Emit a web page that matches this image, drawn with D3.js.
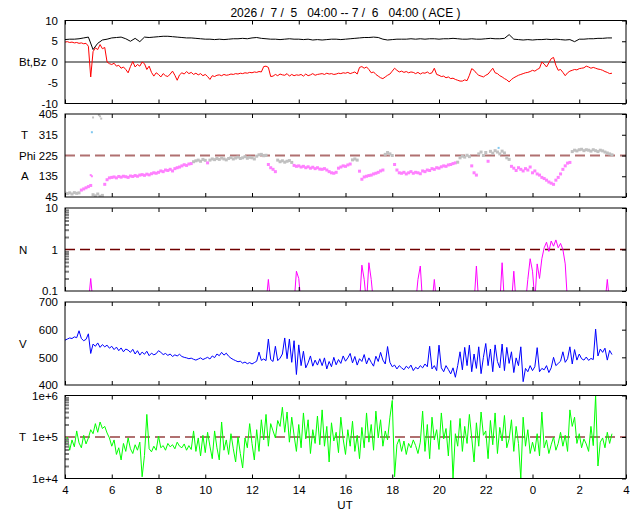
<!DOCTYPE html>
<html>
<head>
<meta charset="utf-8">
<script src="https://cdn.jsdelivr.net/npm/d3@7"></script>
<style>
	body { margin: 0; background: #fff; }
	svg { display: block; font-family: "Liberation Sans", Arial, sans-serif; font-size: 11.5px; }
	.tick text { font-size: 11.5px; font-family: "Liberation Sans", Arial, sans-serif; fill: #000; }
</style>
</head>
<body>
<svg id="chart" width="640" height="512"></svg>
<script>
// ACE real-time solar wind, 24 h starting 04:00 UT
// hours are counted from the start of the window

var titleText = "2026 /  7 /  5   04:00 -- 7 /  6   04:00 ( ACE )";

var hourTicks = [0, 2, 4, 6, 8, 10, 12, 14, 16, 18, 20, 22, 24];
var hourLabels = ["4", "6", "8", "10", "12", "14", "16", "18", "20", "22", "0", "2", "4"];

// Bt (every 12 min) and Bz (every 6 min), nT
var btStep = 0.2;
var btValues = [
	5.4,5.5,5.5,5.6,5.8,6.0,3.0,4.5,5.3,5.5,
	5.8,5.9,6.0,5.6,5.0,5.7,4.9,6.0,5.9,6.0,
	6.1,6.2,6.2,6.1,6.0,5.9,5.8,5.8,5.7,5.6,
	5.5,5.5,5.4,5.5,5.4,5.5,5.6,5.6,5.7,5.6,
	5.8,5.9,5.7,5.6,5.5,5.5,5.4,5.5,5.6,5.5,
	5.5,5.4,5.5,5.3,5.4,5.3,5.4,5.5,5.5,5.4,
	5.5,5.6,5.7,5.8,5.9,5.9,6.0,5.9,5.5,5.3,
	5.4,5.5,5.5,5.5,5.6,5.5,5.6,5.5,5.6,5.6,
	5.5,5.6,5.6,5.7,5.6,5.5,5.5,5.6,5.5,5.5,
	5.6,5.7,5.6,5.6,5.7,6.6,5.5,5.4,5.3,5.4,
	5.3,5.4,5.4,5.5,5.4,5.5,5.4,5.3,5.4,4.9,
	5.5,5.5,5.6,5.6,5.7,5.7,5.8,5.8
];
var step = 0.1;
var bzValues = [
	4.8,4.9,4.7,4.8,4.6,4.7,4.5,4.6,4.4,4.5,
	3.8,-3.6,2.5,3.4,3.0,4.2,3.2,3.5,0.0,-0.4,
	-0.6,-0.3,-1.0,-0.8,-1.5,-1.2,-1.8,-2.6,-1.1,0.1,
	-1.2,-0.6,-1.0,0.0,-0.4,-1.8,-1.0,-2.5,-3.4,-2.6,
	-3.0,-3.6,-2.8,-3.3,-3.5,-2.9,-2.2,-3.2,-4.4,-3.1,
	-2.6,-2.9,-2.3,-2.8,-2.5,-3.0,-2.7,-3.1,-2.8,-3.3,
	-3.0,-3.5,-4.2,-3.3,-3.5,-3.2,-3.1,-3.3,-3.0,-3.2,
	-3.1,-2.9,-3.0,-2.8,-2.9,-2.7,-2.8,-2.6,-2.7,-2.5,
	-2.6,-2.4,-2.5,-2.3,-2.4,-1.1,-1.0,-1.3,-3.5,-3.4,
	-3.0,-3.3,-2.9,-3.1,-3.2,-2.8,-3.4,-3.0,-3.3,-3.1,
	-3.2,-3.0,-3.4,-2.9,-3.3,-3.1,-2.8,-3.2,-3.0,-2.9,
	-2.8,-3.0,-2.7,-2.9,-2.8,-3.0,-2.9,-2.7,-2.8,-2.6,
	-2.7,-2.5,-2.8,-2.6,-2.4,-2.9,-1.3,-1.1,-1.5,-1.2,
	-1.8,-2.6,-2.4,-3.0,-3.4,-3.8,-4.0,-3.6,-3.2,-2.9,
	-2.2,-1.5,-2.0,-2.4,-2.2,-2.5,-2.3,-2.6,-2.4,-2.5,
	-2.8,-2.5,-2.9,-2.6,-2.7,-2.4,-2.8,-2.6,-1.5,-3.0,
	-3.2,-3.5,-3.4,-3.8,-3.6,-4.0,-3.9,-4.2,-4.4,-4.6,
	-4.6,-4.3,-4.5,-3.2,-1.6,-2.0,-2.7,-3.2,-3.4,-3.6,
	-3.2,-2.9,-2.2,-1.5,-2.6,-2.8,-3.3,-3.6,-4.0,-4.3,
	-4.8,-4.2,-3.8,-3.5,-3.2,-3.0,-2.8,-2.6,-2.5,-2.3,
	-2.0,-2.2,-1.8,-1.5,0.0,-0.5,-1.2,-0.2,0.8,1.1,
	-0.8,-2.0,-1.8,-2.5,-3.3,-2.6,-2.2,-2.0,-1.8,-1.9,
	-1.6,-1.5,-1.4,-1.0,-1.2,-1.5,-1.3,-1.5,-1.7,-1.8,
	-2.0,-2.3,-2.5,-2.8,-2.7
];

// Phi angle, deg
var phiValues = [
	62,60,63,58,64,61,63,75,80,85,
	90,95,55,50,58,48,52,100,120,128,
	130,132,128,134,131,135,133,130,136,134,
	138,135,140,142,139,144,141,146,150,148,
	152,158,155,162,160,165,158,168,172,175,
	180,185,182,188,190,198,202,205,200,208,
	204,193,205,210,207,212,208,214,210,206,
	212,216,210,214,218,212,215,220,213,217,
	215,210,222,228,230,224,226,186,172,165,
	155,205,198,202,196,200,203,195,182,178,
	180,175,178,172,176,170,174,168,172,166,
	165,168,162,155,150,148,152,170,175,180,
	178,184,188,206,210,205,157,122,132,135,
	138,140,145,148,152,158,162,230,238,232,
	225,186,162,150,148,152,145,150,155,148,
	152,150,146,158,155,162,160,168,165,172,
	170,176,180,178,184,186,190,193,196,215,
	222,218,226,220,180,150,140,232,240,225,
	238,200,243,235,246,240,232,244,236,215,
	208,178,170,160,172,165,158,168,162,175,
	150,158,145,140,130,125,118,110,105,100,
	118,130,145,165,180,192,195,242,248,245,
	250,252,246,250,248,244,250,246,242,248,
	245,240,236,232,228
];
// hour spans drawn in gray, the rest in violet
var phiGraySpans = [[0, 0.6], [1.2, 1.6], [5.5, 6.0], [6.2, 8.6], [9.1, 9.7], [12.3, 12.5],
	[13.7, 14.0], [16.8, 17.3], [17.7, 18.0], [18.2, 19.0], [21.7, 23.4]];
var phiExtraHours = [1.1, 1.15, 1.15, 1.2, 1.45, 1.5, 1.55, 18.55];
var phiExtraValues = [140, 135, 326, 390, 400, 395, 385, 258];
var phiExtraKinds = ["violet", "violet", "blue", "gray", "gray", "gray", "gray", "blue"];

// proton density, /cc
var densityValues = [
	.05,.05,.05,.05,.05,.05,.05,.05,.05,.05,
	.05,.2,.05,.05,.05,.05,.05,.1,.05,.05,
	.05,.05,.05,.05,.05,.05,.05,.05,.05,.05,
	.05,.05,.05,.05,.05,.05,.05,.05,.05,.05,
	.05,.05,.05,.05,.05,.05,.05,.05,.05,.05,
	.05,.05,.05,.05,.05,.05,.05,.05,.05,.05,
	.05,.05,.05,.05,.05,.05,.05,.05,.05,.05,
	.05,.05,.05,.05,.05,.05,.05,.05,.05,.05,
	.05,.05,.05,.05,.05,.05,.05,.19,.05,.05,
	.1,.05,.05,.1,.05,.05,.05,.05,.05,.3,
	.2,.05,.05,.05,.05,.05,.1,.05,.05,.05,
	.05,.05,.05,.05,.05,.05,.05,.05,.05,.05,
	.05,.05,.05,.05,.05,.05,.05,.42,.19,.05,
	.48,.19,.05,.05,.05,.05,.05,.05,.05,.05,
	.05,.05,.05,.05,.05,.05,.05,.05,.05,.05,
	.05,.19,.4,.05,.05,.05,.05,.05,.19,.05,
	.05,.05,.05,.05,.05,.05,.05,.05,.05,.05,
	.05,.05,.05,.05,.05,.05,.4,.05,.05,.05,
	.05,.05,.05,.05,.05,.05,.05,.48,.05,.05,
	.05,.05,.3,.05,.05,.05,.05,.05,.19,.6,
	.3,.06,.45,.2,.6,1.1,1.5,.9,1.6,1.2,
	1.7,1.1,1.4,1.0,.45,.05,.05,.05,.05,.05,
	.05,.05,.05,.05,.05,.05,.05,.05,.05,.05,
	.05,.05,.19,.05,.05
];

// bulk speed, km/s
var speedValues = [
	562,566,570,568,574,571,596,568,560,565,
	585,514,548,540,552,536,546,538,544,533,
	540,528,537,524,534,520,530,526,518,529,
	512,524,508,519,511,522,506,515,509,513,
	524,518,510,514,507,512,503,509,505,511,
	503,500,498,495,497,493,490,494,498,492,
	496,500,494,505,499,512,506,518,508,515,
	504,497,492,488,484,486,479,483,477,481,
	476,481,486,519,489,494,488,566,492,485,
	540,488,497,512,570,495,566,482,560,438,
	545,470,522,462,480,505,468,490,472,495,
	470,498,458,485,466,500,473,492,478,505,
	486,498,514,480,503,472,495,485,510,476,
	498,482,468,504,485,518,490,476,539,482,
	466,472,458,470,462,455,468,460,472,452,
	464,458,470,462,476,466,540,458,470,452,
	544,462,448,470,456,440,462,428,470,520,
	455,536,470,544,448,512,460,538,441,500,
	550,470,530,448,545,485,462,548,452,536,
	478,520,445,498,470,538,412,460,448,470,
	452,466,535,448,460,455,470,445,462,500,
	470,478,486,520,482,495,538,476,528,490,
	512,495,490,501,489,496,492,602,505,530,
	518,533,490,525,510
];

// ion temperature, thousands of K
var tempValues = [
	65,100,48,85,58,140,72,55,110,68,
	95,150,120,210,130,230,160,180,125,95,
	60,85,38,55,28,70,45,95,52,40,
	65,48,75,11,36,350,52,44,60,48,
	105,55,62,48,70,58,65,52,75,60,
	55,68,48,62,50,140,45,95,35,110,
	42,130,60,30,140,55,28,230,48,85,
	38,120,52,25,100,40,18,95,55,210,
	70,28,150,45,260,85,350,60,210,140,
	95,250,180,520,130,400,75,300,110,45,
	200,55,380,90,260,40,150,70,320,65,
	450,60,180,25,220,80,130,42,300,90,
	38,150,60,240,45,110,30,170,55,380,
	75,200,48,420,95,260,60,140,85,300,
	760,11,65,90,45,80,38,70,55,85,
	62,40,75,420,45,200,30,300,85,150,
	50,380,90,160,35,250,10,120,60,280,
	45,180,70,350,95,25,220,60,400,110,
	140,30,250,65,380,40,170,80,330,55,
	90,260,45,180,70,10,300,60,150,40,
	75,45,120,35,400,55,85,40,65,100,
	48,70,130,60,110,45,450,180,300,70,
	120,55,90,68,45,180,62,1000,20,75,
	95,55,130,70,120
];

var nMinorTicks = [0.2, 0.3, 0.4, 0.5, 0.6, 0.7, 0.8, 0.9, 2, 3, 4, 5, 6, 7, 8, 9];
var tMinorTicks = [20, 30, 40, 50, 60, 70, 80, 90, 200, 300, 400, 500, 600, 700, 800, 900];

var svg = d3.select("#chart"),
	left = 65,
	right = 626,
	panelH = 83,
	panelTops = [20.5, 114, 208, 302, 395.5];

var x = d3.scaleLinear().domain([0, 24]).range([left, right]);

// Builds one strip: clip, data layer, then frame and ticks on top
function makePanel(index, y, tickVals, tickLabels, minorTicks) {
	var top = panelTops[index],
		bottom = top + panelH;

	svg.append("clipPath").attr("id", "clip" + index)
	  .append("rect")
		.attr("x", left).attr("y", top)
		.attr("width", right - left).attr("height", panelH);

	var plot = svg.append("g").attr("clip-path", "url(#clip" + index + ")"),
		axes = svg.append("g");

	// inward time ticks, top and bottom
	axes.append("g").attr("transform", "translate(0," + top + ")")
		.call(d3.axisBottom(x).tickValues(hourTicks).tickSize(4).tickFormat(""));
	axes.append("g").attr("transform", "translate(0," + bottom + ")")
		.call(d3.axisTop(x).tickValues(hourTicks).tickSize(4).tickFormat(""));
	// inward value ticks on the right
	axes.append("g").attr("transform", "translate(" + right + ",0)")
		.call(d3.axisLeft(y).tickValues(tickVals).tickSize(4).tickFormat(""));
	// gray minor ticks on the left of the log strips
	if (minorTicks) {
		axes.append("g").attr("class", "minor").attr("transform", "translate(" + left + ",0)")
			.call(d3.axisRight(y).tickValues(minorTicks).tickSize(4).tickFormat(""))
			.selectAll("line").attr("stroke", "#808080").attr("stroke-width", 2);
	}
	// value labels
	axes.append("g").attr("transform", "translate(" + left + ",0)")
		.call(d3.axisLeft(y).tickValues(tickVals).tickSize(0).tickPadding(7)
			.tickFormat(function(d, i) { return tickLabels[i]; }));

	axes.selectAll(".domain").remove();

	axes.append("rect")
		.attr("x", left).attr("y", top)
		.attr("width", right - left).attr("height", panelH)
		.attr("fill", "none").attr("stroke", "#000").attr("stroke-width", 1);

	return { plot: plot, top: top, bottom: bottom };
}

function nameLabel(text, xPos, yPos) {
	svg.append("text")
		.attr("x", xPos).attr("y", yPos).attr("dy", "0.35em")
		.text(text);
}

function refLine(panel, y, value, color, width) {
	panel.plot.append("line")
		.attr("x1", left).attr("x2", right)
		.attr("y1", y(value)).attr("y2", y(value))
		.attr("stroke", color).attr("stroke-width", width)
		.attr("stroke-dasharray", "10,5");
}

function series(panel, y, values, dt, color) {
	var line = d3.line()
		.x(function(d, i) { return x(i * dt); })
		.y(function(d) { return y(d); });
	panel.plot.append("path")
		.datum(values)
		.attr("d", line)
		.attr("fill", "none")
		.attr("stroke", color)
		.attr("stroke-width", 1);
}

// --- TITLE --- //
svg.append("text")
	.attr("x", (left + right) / 2).attr("y", 17)
	.attr("text-anchor", "middle")
	.style("white-space", "pre")
	.style("font-size", "12px")
	.text(titleText);

// --- Bt, Bz --- //
var yB = d3.scaleLinear().domain([-10, 10]).range([panelTops[0] + panelH, panelTops[0]]);
var p1 = makePanel(0, yB, [10, 5, 0, -5, -10], ["10", "5", "0", "-5", "-10"]);
p1.plot.append("line")
	.attr("x1", left).attr("x2", right)
	.attr("y1", yB(0)).attr("y2", yB(0))
	.attr("stroke", "#888").attr("stroke-width", 2);
series(p1, yB, btValues, btStep, "#000");
series(p1, yB, bzValues, step, "#ff0000");
nameLabel("Bt,Bz", 19, yB(0));

// --- PHI --- //
var yPhi = d3.scaleLinear().domain([45, 405]).range([panelTops[1] + panelH, panelTops[1]]);
var p2 = makePanel(1, yPhi, [405, 315, 225, 135, 45], ["405", "315", "225", "135", "45"]);
refLine(p2, yPhi, 225, "#b07070", 2);

var dotColors = { gray: "#c0c0c0", violet: "#ff80ff", blue: "#80c8f0" };
function phiKind(h) {
	var gray = phiGraySpans.some(function(s) { return h >= s[0] - 1e-6 && h <= s[1] + 1e-6; });
	return gray ? "gray" : "violet";
}
p2.plot.selectAll(".phi").data(phiValues).enter().append("rect")
	.attr("class", "phi")
	.attr("x", function(d, i) { return x(i * step) - 1.5; })
	.attr("y", function(d) { return yPhi(d) - 1.5; })
	.attr("width", 3).attr("height", 3)
	.attr("fill", function(d, i) { return dotColors[phiKind(i * step)]; });
p2.plot.selectAll(".phi-extra").data(phiExtraValues).enter().append("rect")
	.attr("class", "phi-extra")
	.attr("x", function(d, i) { return x(phiExtraHours[i]) - 1; })
	.attr("y", function(d) { return yPhi(d) - 1; })
	.attr("width", 2).attr("height", 2)
	.attr("fill", function(d, i) { return dotColors[phiExtraKinds[i]]; });
nameLabel("T", 21, yPhi(315));
nameLabel("Phi", 19, yPhi(225));
nameLabel("A", 21, yPhi(135));

// --- N --- //
var yN = d3.scaleLog().domain([0.1, 10]).range([panelTops[2] + panelH, panelTops[2]]);
var p3 = makePanel(2, yN, [10, 1, 0.1], ["10", "1", "0.1"], nMinorTicks);
refLine(p3, yN, 1, "#700000", 1.5);
series(p3, yN, densityValues, step, "#ff00ff");
nameLabel("N", 19, yN(1));

// --- V --- //
var yV = d3.scaleLinear().domain([400, 700]).range([panelTops[3] + panelH, panelTops[3]]);
var p4 = makePanel(3, yV, [700, 600, 500, 400], ["700", "600", "500", "400"]);
series(p4, yV, speedValues, step, "#0000ff");
nameLabel("V", 19, yV(550));

// --- T --- //
var yT = d3.scaleLog().domain([10, 1000]).range([panelTops[4] + panelH, panelTops[4]]);
var p5 = makePanel(4, yT, [1000, 100, 10], ["1e+6", "1e+5", "1e+4"], tMinorTicks);
refLine(p5, yT, 100, "#b07070", 2);
series(p5, yT, tempValues, step, "#00ff00");
nameLabel("T", 19, yT(100));

// time labels under the last strip
svg.append("g").attr("transform", "translate(0," + p5.bottom + ")")
	.call(d3.axisBottom(x).tickValues(hourTicks).tickSize(0).tickPadding(7)
		.tickFormat(function(d, i) { return hourLabels[i]; }))
	.select(".domain").remove();
svg.append("text")
	.attr("x", 345).attr("y", 509)
	.attr("text-anchor", "middle")
	.text("UT");
</script>
</body>
</html>
